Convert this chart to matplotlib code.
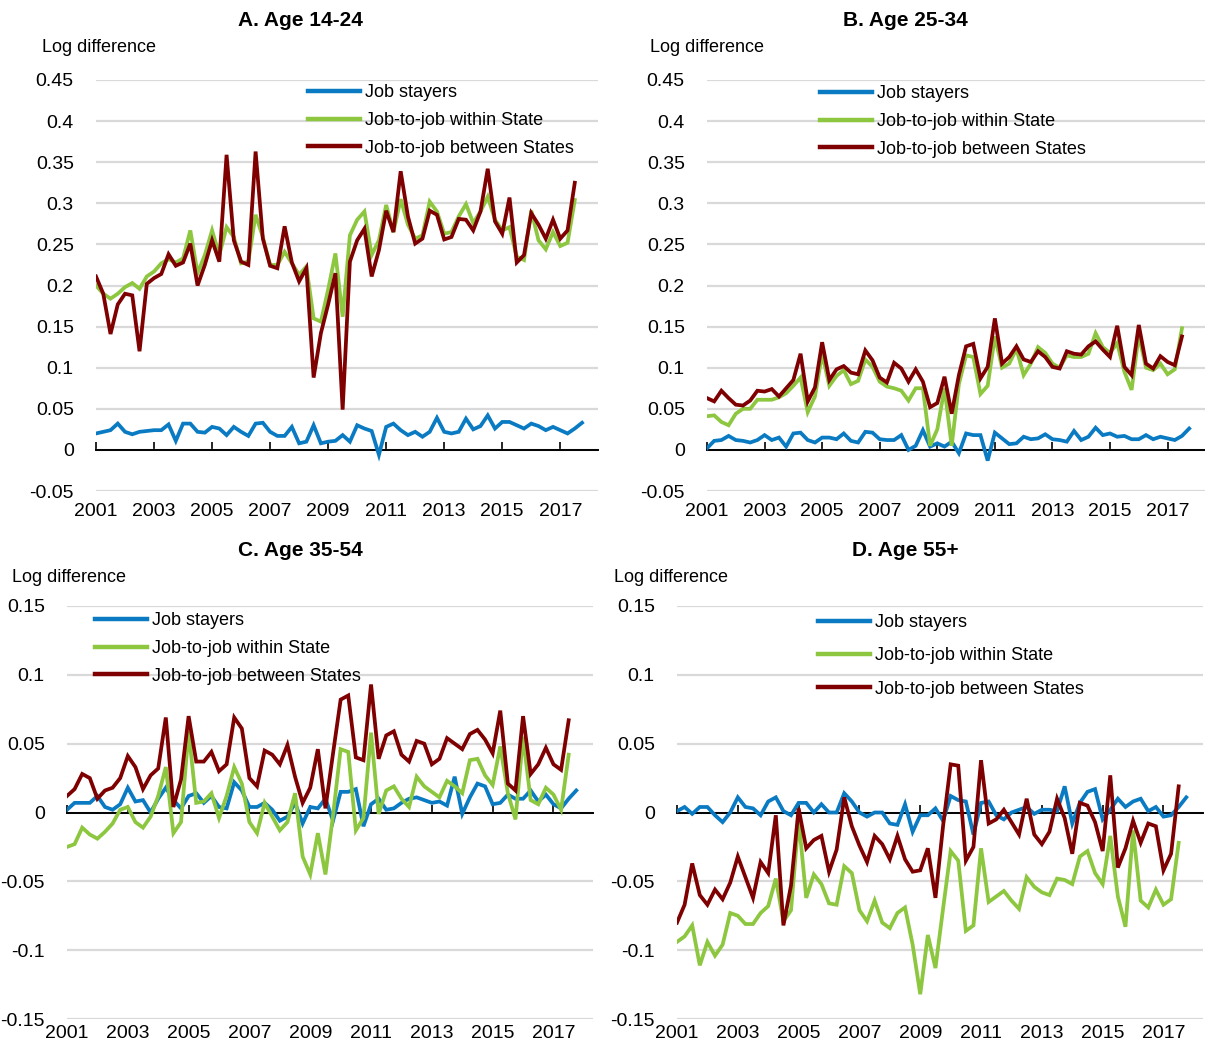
import numpy as np
import matplotlib
matplotlib.use("Agg")
from matplotlib import pyplot as plt

plt.rcParams['font.family'] = ['Liberation Sans Narrow', 'Liberation Sans', 'DejaVu Sans']
plt.rcParams['axes.unicode_minus'] = False

# ---------------------------------------------------------------------------
# Data: quarterly, 2001Q1 onwards (log difference)
# ---------------------------------------------------------------------------
series_names = ["Job stayers", "Job-to-job within State", "Job-to-job between States"]
year_ticks = list(range(2001, 2018, 2))

a_stayers = [0.02, 0.022, 0.024, 0.032, 0.022, 0.019, 0.022, 0.023, 0.024, 0.024, 0.031, 0.011,
             0.032, 0.032, 0.022, 0.021, 0.028, 0.026, 0.018, 0.028, 0.022, 0.017, 0.032, 0.033,
             0.022, 0.017, 0.017, 0.028, 0.008, 0.01, 0.03, 0.008, 0.01, 0.011,
             0.018, 0.01, 0.03, 0.026, 0.023, -0.006, 0.028, 0.032, 0.024, 0.018, 0.022, 0.016,
             0.022, 0.039, 0.022, 0.02, 0.022, 0.038, 0.025, 0.029, 0.042, 0.026, 0.034, 0.034,
             0.03, 0.026, 0.032, 0.029, 0.024, 0.028, 0.024, 0.02, 0.026, 0.033]
a_within = [0.2, 0.19, 0.184, 0.19, 0.198, 0.203, 0.196, 0.211, 0.217, 0.227, 0.232, 0.228,
            0.233, 0.267, 0.215, 0.237, 0.267, 0.237, 0.271, 0.259, 0.227, 0.229, 0.286, 0.259,
            0.225, 0.225, 0.241, 0.227, 0.213, 0.223, 0.16, 0.156, 0.195, 0.239,
            0.162, 0.261, 0.28, 0.29, 0.237, 0.255, 0.298, 0.265, 0.305, 0.274, 0.257, 0.261,
            0.302, 0.29, 0.263, 0.265, 0.284, 0.299, 0.276, 0.29, 0.308, 0.28, 0.267, 0.271,
            0.235, 0.231, 0.291, 0.255, 0.244, 0.265, 0.248, 0.252, 0.304]
a_between = [0.211, 0.19, 0.141, 0.177, 0.19, 0.188, 0.12, 0.202, 0.209, 0.214, 0.238, 0.224,
             0.228, 0.251, 0.2, 0.225, 0.255, 0.229, 0.359, 0.255, 0.229, 0.225, 0.363, 0.257,
             0.224, 0.221, 0.272, 0.228, 0.205, 0.221, 0.088, 0.142, 0.177, 0.215,
             0.049, 0.229, 0.255, 0.269, 0.211, 0.243, 0.291, 0.265, 0.339, 0.284, 0.251, 0.257,
             0.291, 0.286, 0.256, 0.259, 0.281, 0.28, 0.267, 0.29, 0.342, 0.278, 0.263, 0.307,
             0.228, 0.237, 0.288, 0.274, 0.257, 0.28, 0.257, 0.267, 0.325]

b_stayers = [0.002, 0.011, 0.012, 0.017, 0.012, 0.011, 0.009, 0.012, 0.018, 0.012, 0.015, 0.004,
             0.02, 0.021, 0.012, 0.009, 0.015, 0.015, 0.013, 0.02, 0.011, 0.009, 0.022, 0.021,
             0.013, 0.012, 0.012, 0.018,
             0.0, 0.005, 0.024, 0.004, 0.008, 0.004, 0.01, -0.004, 0.02, 0.018, 0.018, -0.013,
             0.021, 0.014, 0.007, 0.008, 0.016, 0.013, 0.014, 0.019, 0.013, 0.012, 0.01, 0.023,
             0.012, 0.016, 0.027, 0.018, 0.02, 0.016, 0.017, 0.013, 0.013, 0.018, 0.013, 0.016,
             0.014, 0.012, 0.017, 0.026]
b_within = [0.041, 0.042, 0.034, 0.03, 0.044, 0.05, 0.05, 0.061, 0.061, 0.061, 0.064, 0.069,
            0.078, 0.088, 0.046, 0.065, 0.117, 0.078, 0.09, 0.097, 0.08, 0.084, 0.11, 0.101,
            0.083, 0.077, 0.075, 0.072, 0.06, 0.075, 0.075,
            0.005, 0.025, 0.075, 0.005, 0.08, 0.115, 0.113, 0.068, 0.078, 0.138, 0.1, 0.105,
            0.123, 0.091, 0.105, 0.125, 0.118, 0.105, 0.1, 0.115, 0.113, 0.113, 0.117, 0.142,
            0.125, 0.118, 0.13, 0.095, 0.073, 0.14, 0.1, 0.097, 0.105, 0.092, 0.098, 0.148]
b_between = [0.063, 0.059, 0.072, 0.063, 0.055, 0.054, 0.06, 0.072, 0.071, 0.074, 0.065, 0.075,
             0.085, 0.117, 0.059, 0.076, 0.131, 0.085, 0.098, 0.102, 0.094, 0.092, 0.121, 0.109,
             0.088, 0.082, 0.106, 0.099, 0.083, 0.098, 0.083,
             0.052, 0.057, 0.089, 0.044, 0.091, 0.126, 0.129, 0.087, 0.101, 0.16, 0.105, 0.113,
             0.126, 0.11, 0.107, 0.12, 0.113, 0.101, 0.099, 0.12, 0.117, 0.116, 0.126, 0.132,
             0.122, 0.113, 0.151, 0.101, 0.091, 0.152, 0.105, 0.099, 0.114, 0.107, 0.103, 0.138]

c_stayers = [0.002, 0.007, 0.007, 0.007, 0.012, 0.004, 0.002, 0.006, 0.018, 0.008, 0.009, 0.0,
             0.01, 0.018, 0.009, 0.003, 0.012, 0.014, 0.007, 0.012, 0.004, 0.003, 0.022, 0.016,
             0.004, 0.004, 0.007, 0.002, -0.006, -0.003, 0.007, -0.008, 0.004,
             0.003, 0.01, -0.006, 0.015, 0.015, 0.017, -0.01, 0.006, 0.01, 0.002, 0.003, 0.007,
             0.01, 0.011, 0.009, 0.007, 0.008, 0.005, 0.026, -0.001, 0.011, 0.021, 0.019, 0.006,
             0.007, 0.013, 0.01, 0.01, 0.016, 0.008, 0.013, 0.006, 0.003, 0.01, 0.016]
c_within = [-0.025, -0.023, -0.011, -0.016, -0.019, -0.014, -0.008, 0.002, 0.004, -0.007, -0.011,
            -0.003, 0.012, 0.033, -0.015, -0.007, 0.059, 0.007, 0.008, 0.014, -0.004, 0.012,
            0.033, 0.021, -0.007, -0.015, 0.007, -0.003, -0.013, -0.007, 0.014, -0.032, -0.045,
            -0.015, -0.045, -0.002, 0.046, 0.044, -0.013, -0.004, 0.058, -0.001, 0.016, 0.019,
            0.01, 0.004, 0.026, 0.019, 0.015, 0.011, 0.023, 0.019, 0.014, 0.038, 0.039, 0.027,
            0.02, 0.048, 0.014, -0.005, 0.055, 0.009, 0.006, 0.018, 0.013, 0.002, 0.042]
c_between = [0.012, 0.017, 0.028, 0.025, 0.01, 0.016, 0.018, 0.025, 0.041, 0.033, 0.017, 0.027,
             0.032, 0.069, 0.004, 0.024, 0.07, 0.037, 0.037, 0.044, 0.03, 0.035, 0.069, 0.061,
             0.025, 0.019, 0.045, 0.042, 0.035, 0.049, 0.026, 0.007, 0.018,
             0.046, 0.003, 0.043, 0.082, 0.085, 0.04, 0.038, 0.093, 0.039, 0.056, 0.059, 0.042,
             0.037, 0.052, 0.05, 0.035, 0.039, 0.054, 0.05, 0.046, 0.057, 0.06, 0.053, 0.043,
             0.074, 0.021, 0.016, 0.07, 0.028, 0.035, 0.047, 0.035, 0.031, 0.067]

d_stayers = [0.001, 0.004, -0.001, 0.004, 0.004, -0.002, -0.007, 0.0, 0.011, 0.004, 0.003, -0.002,
             0.008, 0.011, 0.001, -0.002, 0.007, 0.007, 0.0, 0.006, 0.0, 0.0, 0.014, 0.008,
             0.0, -0.003, 0.0, 0.0, -0.008, -0.009, 0.006, -0.014, -0.002,
             -0.002, 0.003, -0.006, 0.012, 0.009, 0.008, -0.016, 0.007, 0.008, -0.002, -0.005,
             0.0, 0.002, 0.004, -0.001, 0.002, 0.002, 0.001, 0.019, -0.008, 0.007, 0.015, 0.017,
             -0.005, 0.002, 0.01, 0.004, 0.008, 0.01, 0.001, 0.004, -0.003, -0.002, 0.004, 0.011]
d_within = [-0.094, -0.09, -0.082, -0.111, -0.094, -0.104, -0.096, -0.073, -0.075, -0.081, -0.081,
            -0.073, -0.068, -0.048, -0.079, -0.071, -0.005, -0.062, -0.045, -0.052, -0.066,
            -0.067, -0.039, -0.044, -0.071, -0.079, -0.064, -0.08, -0.084, -0.073, -0.069,
            -0.096, -0.132,
            -0.089, -0.113, -0.07, -0.028, -0.035, -0.086, -0.082, -0.026, -0.065, -0.061,
            -0.057, -0.064, -0.07, -0.047, -0.054, -0.058, -0.06, -0.048, -0.049, -0.052,
            -0.032, -0.028, -0.044, -0.052, -0.017, -0.061, -0.083, -0.013, -0.064, -0.069,
            -0.056, -0.067, -0.063, -0.022]
d_between = [-0.08, -0.067, -0.037, -0.06, -0.067, -0.056, -0.063, -0.051, -0.032, -0.047, -0.062,
             -0.036, -0.044, -0.002, -0.082, -0.053, 0.003, -0.026, -0.02, -0.017, -0.043,
             -0.027, 0.011, -0.01, -0.024, -0.036, -0.017, -0.023, -0.034, -0.017, -0.034,
             -0.043, -0.042,
             -0.026, -0.062, -0.01, 0.035, 0.034, -0.035, -0.025, 0.038, -0.008, -0.005, 0.002,
             -0.007, -0.016, 0.01, -0.016, -0.023, -0.014, 0.01, -0.004, -0.03, 0.007, 0.005,
             -0.007, -0.028, 0.027, -0.04, -0.026, -0.006, -0.022, -0.008, -0.01, -0.042, -0.03,
             0.019]

COLORS = ["#0A7BC2", "#8DC63F", "#7F0000"]
FS = 14      # tick labels
LFS = 13     # legend text


def quarters(values):
    return 2001 + np.arange(len(values)) / 4.0


def draw_panel(ax, title, series, ylim, ystep, legend_anchor, legend_spacing, title_xy,
               logdiff_xy, xpad):
    for vals, name, col in zip(series, series_names, COLORS):
        ax.plot(quarters(vals), vals, color=col, lw=2.7, label=name, solid_joinstyle='miter')

    ax.set_xlim(2001, 2018.3)
    ax.set_ylim(*ylim)
    yt = np.round(np.arange(ylim[0], ylim[1] + ystep / 2, ystep), 3)
    ax.set_yticks(yt)
    ax.set_yticklabels([f"{v:g}" for v in yt], fontsize=FS)
    ax.yaxis.grid(True, color="#d9d9d9", lw=1.6)
    ax.set_axisbelow(True)
    ax.tick_params(axis='y', length=0, pad=16)

    for s in ["top", "right", "left"]:
        ax.spines[s].set_visible(False)
    # zero line carries the year ticks, labels sit at the bottom
    ax.spines["bottom"].set_position(("data", 0))
    ax.spines["bottom"].set_color("black")
    ax.spines["bottom"].set_linewidth(1.4)
    ax.spines["bottom"].set_zorder(1)
    ax.set_xticks(year_ticks)
    ax.tick_params(axis='x', direction='in', length=6, width=1.2, labelbottom=False)

    sec = ax.secondary_xaxis('bottom')
    sec.spines["bottom"].set_visible(False)
    sec.set_xticks(year_ticks)
    sec.set_xticklabels([str(y) for y in year_ticks], fontsize=FS)
    sec.tick_params(axis='x', length=0, pad=xpad)

    fig.text(title_xy[0] / W, 1 - title_xy[1] / H, title, ha='center', va='center',
             fontsize=FS + 1, fontweight='bold')
    fig.text(logdiff_xy[0] / W, 1 - logdiff_xy[1] / H, "Log difference", ha='left',
             va='center', fontsize=LFS)

    leg = ax.legend(loc='upper left', bbox_to_anchor=(legend_anchor[0] / W, 1 - legend_anchor[1] / H),
                    bbox_transform=fig.transFigure, frameon=False, fontsize=LFS, handlelength=2.9,
                    handletextpad=0.25, labelspacing=legend_spacing, borderpad=0, borderaxespad=0)
    for ln in leg.get_lines():
        ln.set_linewidth(3.2)


W, H = 1205, 1046
fig = plt.figure(figsize=(W / 100, H / 100), dpi=100)

ax_a = fig.add_axes([96 / W, 1 - 491 / H, 502 / W, 411 / H])
ax_b = fig.add_axes([707 / W, 1 - 491 / H, 498 / W, 411 / H])
ax_c = fig.add_axes([67 / W, 1 - 1019 / H, 526 / W, 413 / H])
ax_d = fig.add_axes([677 / W, 1 - 1019 / H, 526 / W, 413 / H])

draw_panel(ax_a, "A. Age 14-24", [a_stayers, a_within, a_between], (-0.05, 0.45), 0.05,
           (308, 84), 0.6, (300, 20), (42, 48), 9)
draw_panel(ax_b, "B. Age 25-34", [b_stayers, b_within, b_between], (-0.05, 0.45), 0.05,
           (820, 85), 0.6, (905, 20), (650, 48), 9)
draw_panel(ax_c, "C. Age 35-54", [c_stayers, c_within, c_between], (-0.15, 0.15), 0.05,
           (95, 612), 0.6, (300, 551), (12, 578), 4)
draw_panel(ax_d, "D. Age 55+", [d_stayers, d_within, d_between], (-0.15, 0.15), 0.05,
           (818, 614), 0.9, (905, 551), (614, 578), 4)

fig.savefig("out.png", dpi=100)
